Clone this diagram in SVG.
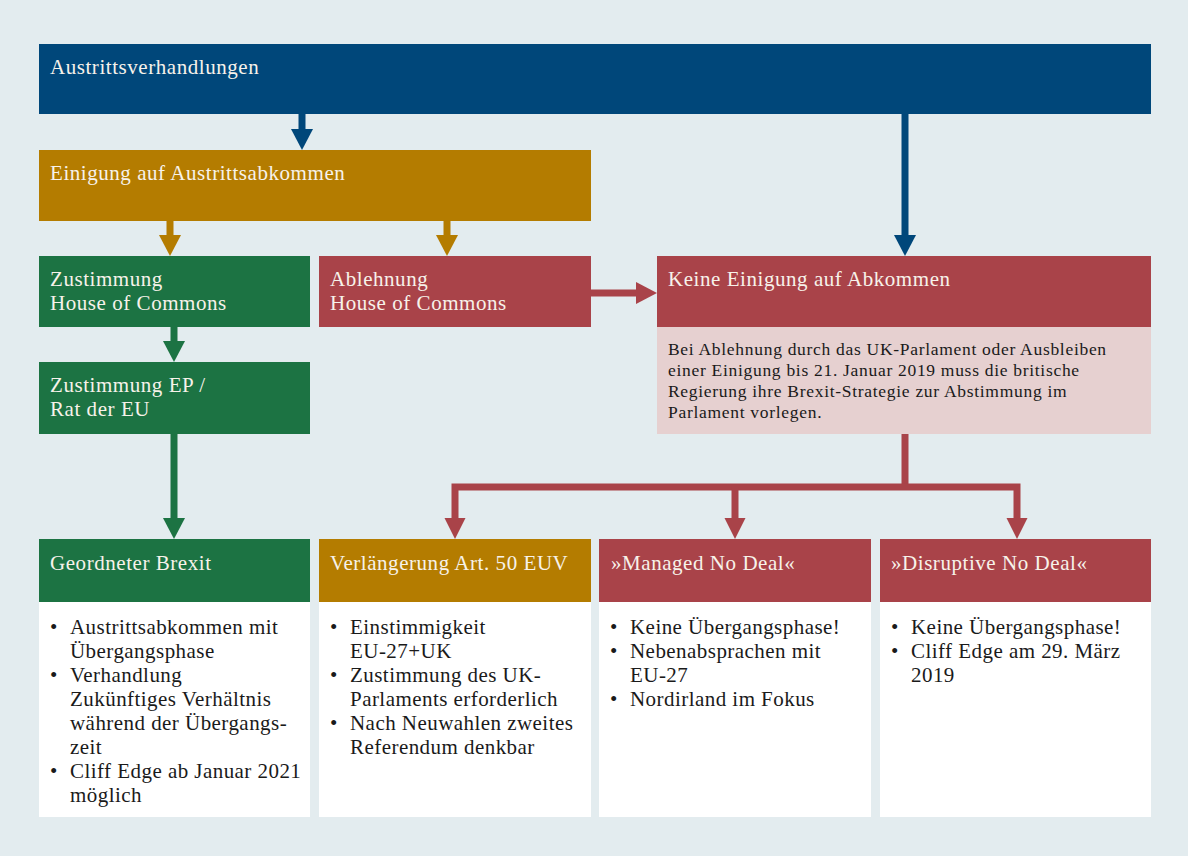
<svg xmlns="http://www.w3.org/2000/svg" width="1188" height="856" viewBox="0 0 1188 856">
<style>
.bg{fill:#e3ecef}
.blue{fill:#00477a}
.gold{fill:#b47c00}
.green{fill:#1c7343}
.red{fill:#a94349}
.pink{fill:#e6d0d0}
.white{fill:#ffffff}
text{font-family:"Liberation Serif","Times New Roman",serif}
.h{font-size:21px;fill:#f7f2ea;letter-spacing:0.55px}
.b{font-size:21px;fill:#1a1a1a;letter-spacing:0.45px}
.p{font-size:17.5px;fill:#1a1a1a;letter-spacing:0.7px}
.c{fill:none;stroke-width:7}
</style>
<defs>
<marker id="ab" markerUnits="userSpaceOnUse" markerWidth="22" markerHeight="22" refX="0" refY="11" orient="auto" viewBox="0 0 22 22"><path d="M0,0 L21,11 L0,22 z" fill="#00477a"/></marker>
<marker id="ag" markerUnits="userSpaceOnUse" markerWidth="22" markerHeight="22" refX="0" refY="11" orient="auto" viewBox="0 0 22 22"><path d="M0,0 L21,11 L0,22 z" fill="#b47c00"/></marker>
<marker id="agr" markerUnits="userSpaceOnUse" markerWidth="22" markerHeight="22" refX="0" refY="11" orient="auto" viewBox="0 0 22 22"><path d="M0,0 L21,11 L0,22 z" fill="#1c7343"/></marker>
<marker id="ar" markerUnits="userSpaceOnUse" markerWidth="22" markerHeight="22" refX="0" refY="11" orient="auto" viewBox="0 0 22 22"><path d="M0,0 L21,11 L0,22 z" fill="#a94349"/></marker>
</defs>
<rect class="bg" x="0" y="0" width="1188" height="856"/>

<g id="connectors">
<path class="c" stroke="#00477a" d="M302,114 V129" marker-end="url(#ab)"/>
<path class="c" stroke="#00477a" d="M905,114 V235" marker-end="url(#ab)"/>
<path class="c" stroke="#b47c00" d="M170,221 V235" marker-end="url(#ag)"/>
<path class="c" stroke="#b47c00" d="M447,221 V235" marker-end="url(#ag)"/>
<path class="c" stroke="#a94349" d="M591,293 H636" marker-end="url(#ar)"/>
<path class="c" stroke="#1c7343" d="M174,327 V341" marker-end="url(#agr)"/>
<path class="c" stroke="#1c7343" d="M174,434 V518" marker-end="url(#agr)"/>
<path class="c" stroke="#a94349" d="M905,434 V487"/>
<path class="c" stroke="#a94349" d="M455,518 V487 H1017 V518" stroke-linejoin="miter"/>
<path class="c" stroke="#a94349" d="M735,487 V518"/>
<path d="M444.5,518 L465.5,518 L455,539 z M724.5,518 L745.5,518 L735,539 z M1006.5,518 L1027.5,518 L1017,539 z" fill="#a94349"/>
</g>

<g id="austrittsverhandlungen">
<rect class="blue" x="39" y="44" width="1112" height="70"/>
<text class="h" x="50" y="74">Austrittsverhandlungen</text>
</g>

<g id="einigung">
<rect class="gold" x="39" y="150" width="552" height="71"/>
<text class="h" x="50" y="180">Einigung auf Austrittsabkommen</text>
</g>

<g id="zustimmung-hoc">
<rect class="green" x="39" y="256" width="271" height="71"/>
<text class="h" x="50" y="286">Zustimmung</text>
<text class="h" x="50" y="310">House of Commons</text>
</g>

<g id="ablehnung-hoc">
<rect class="red" x="319" y="256" width="272" height="71"/>
<text class="h" x="330" y="286">Ablehnung</text>
<text class="h" x="330" y="310">House of Commons</text>
</g>

<g id="keine-einigung">
<rect class="red" x="657" y="256" width="494" height="71"/>
<text class="h" x="668" y="286">Keine Einigung auf Abkommen</text>
<rect class="pink" x="657" y="327" width="494" height="107"/>
<text class="p" x="668" y="355">Bei Ablehnung durch das UK-Parlament oder Ausbleiben</text>
<text class="p" x="668" y="376">einer Einigung bis 21. Januar 2019 muss die britische</text>
<text class="p" x="668" y="397">Regierung ihre Brexit-Strategie zur Abstimmung im</text>
<text class="p" x="668" y="418">Parlament vorlegen.</text>
</g>

<g id="zustimmung-ep">
<rect class="green" x="39" y="362" width="271" height="72"/>
<text class="h" x="50" y="392">Zustimmung EP /</text>
<text class="h" x="50" y="416">Rat der EU</text>
</g>

<g id="geordneter-brexit">
<rect class="green" x="39" y="539" width="271" height="63"/>
<text class="h" x="50" y="570">Geordneter Brexit</text>
<rect class="white" x="39" y="602" width="271" height="215"/>
<text class="b" x="50" y="634">•</text><text class="b" x="70" y="634">Austrittsabkommen mit</text>
<text class="b" x="70" y="658">Übergangsphase</text>
<text class="b" x="50" y="682">•</text><text class="b" x="70" y="682">Verhandlung</text>
<text class="b" x="70" y="706">Zukünftiges Verhältnis</text>
<text class="b" x="70" y="730">während der Übergangs-</text>
<text class="b" x="70" y="754">zeit</text>
<text class="b" x="50" y="778">•</text><text class="b" x="70" y="778">Cliff Edge ab Januar 2021</text>
<text class="b" x="70" y="802">möglich</text>
</g>

<g id="verlaengerung">
<rect class="gold" x="319" y="539" width="272" height="63"/>
<text class="h" x="330" y="570">Verlängerung Art. 50 EUV</text>
<rect class="white" x="319" y="602" width="272" height="215"/>
<text class="b" x="330" y="634">•</text><text class="b" x="350" y="634">Einstimmigkeit</text>
<text class="b" x="350" y="658">EU-27+UK</text>
<text class="b" x="330" y="682">•</text><text class="b" x="350" y="682">Zustimmung des UK-</text>
<text class="b" x="350" y="706">Parlaments erforderlich</text>
<text class="b" x="330" y="730">•</text><text class="b" x="350" y="730">Nach Neuwahlen zweites</text>
<text class="b" x="350" y="754">Referendum denkbar</text>
</g>

<g id="managed-no-deal">
<rect class="red" x="599" y="539" width="272" height="63"/>
<text class="h" x="611" y="570">»Managed No Deal«</text>
<rect class="white" x="599" y="602" width="272" height="215"/>
<text class="b" x="610" y="634">•</text><text class="b" x="630" y="634">Keine Übergangsphase!</text>
<text class="b" x="610" y="658">•</text><text class="b" x="630" y="658">Nebenabsprachen mit</text>
<text class="b" x="630" y="682">EU-27</text>
<text class="b" x="610" y="706">•</text><text class="b" x="630" y="706">Nordirland im Fokus</text>
</g>

<g id="disruptive-no-deal">
<rect class="red" x="880" y="539" width="271" height="63"/>
<text class="h" x="891" y="570">»Disruptive No Deal«</text>
<rect class="white" x="880" y="602" width="271" height="215"/>
<text class="b" x="891" y="634">•</text><text class="b" x="911" y="634">Keine Übergangsphase!</text>
<text class="b" x="891" y="658">•</text><text class="b" x="911" y="658">Cliff Edge am 29. März</text>
<text class="b" x="911" y="682">2019</text>
</g>
</svg>
